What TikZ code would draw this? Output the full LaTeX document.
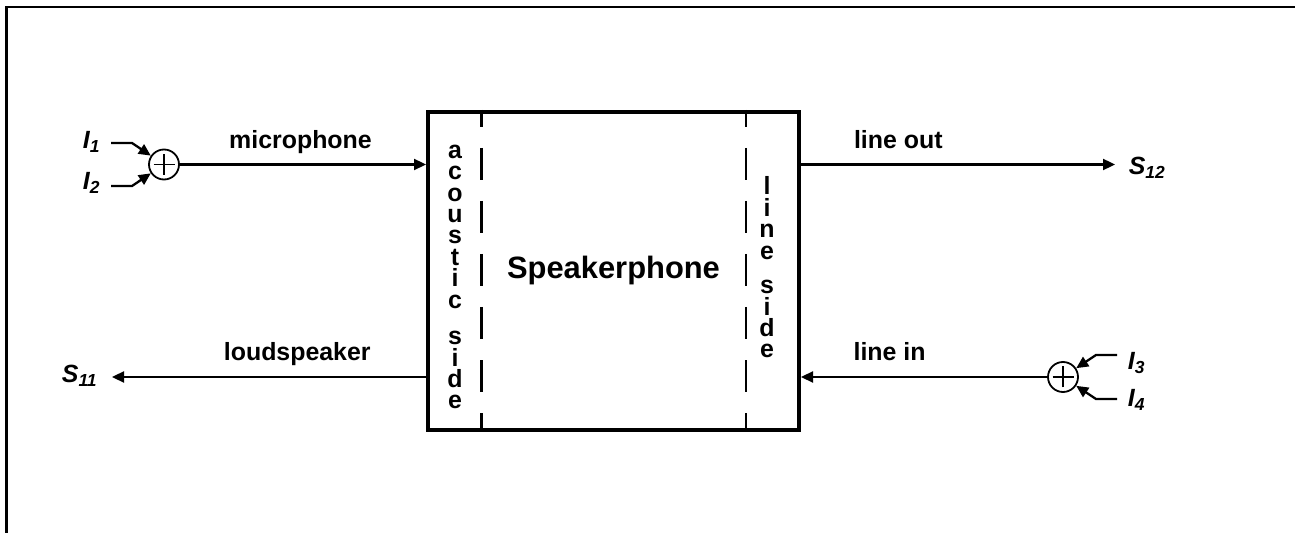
\documentclass[tikz,border=0pt]{standalone}
\usepackage{fontspec}
\setmainfont{Liberation Sans}
\usetikzlibrary{arrows.meta,positioning,calc}

\begin{document}
\begin{tikzpicture}[
        x=1bp, y=-1bp,
        box/.style={rectangle, draw, line width=4bp, minimum width=371bp, minimum height=318bp, font=\fontsize{31}{36}\selectfont\bfseries},
        sum/.style={circle, draw, line width=1.8bp, minimum size=30bp, inner sep=0pt,
            path picture={
                \draw[line width=1.8bp] ([xshift=-10.5bp]path picture bounding box.center) -- ([xshift=10.5bp]path picture bounding box.center)
                    ([yshift=-10.5bp]path picture bounding box.center) -- ([yshift=10.5bp]path picture bounding box.center);
            }},
        sig/.style={inner sep=0pt, font=\fontsize{25}{30}\selectfont\bfseries\itshape},
        lbl/.style={inner sep=0pt, anchor=base, yshift=16bp, font=\fontsize{25}{30}\selectfont\bfseries},
        side/.style={inner sep=0pt, align=center, font=\fontsize{25}{21.5}\selectfont\bfseries},
        arrow/.style={-{Triangle[length=12bp, width=11bp]}, line width=2.3bp},
        sidedash/.style={line width=2.3bp, dash pattern=on 32bp off 21bp, dash phase=15bp},
        frame/.style={line width=2.2bp}
    ]
        \useasboundingbox (0,0) rectangle (1295,533);

        % Frame
        \draw[frame] (6.5,533) -- (6.5,7) -- (1295,7);

        % Speakerphone block
        \node[box] (sp) at (613.5,271) {Speakerphone};
        \draw[sidedash] ([xshift=55.5bp]sp.north west) -- ([xshift=55.5bp]sp.south west);
        \draw[sidedash] ([xshift=-54.75bp]sp.north east) -- ([xshift=-54.75bp]sp.south east);
        \node[side] (acs) at (455,277) {a\\c\\o\\u\\s\\t\\i\\c\\[15bp]s\\i\\d\\e};
        \node[side] (lns) at (767,267.5) {l\\i\\n\\e\\[13bp]s\\i\\d\\e};

        % Summing points
        \node[sum] (sum1) at (164,164.5) {};
        \node[sum] (sum2) at (1063,377) {};

        % Signals
        \node[sig] (i1) at (91.5,142) {I\textsubscript{1}};
        \node[sig] (i2) at (91.5,183) {I\textsubscript{2}};
        \node[sig] (i3) at (1136.5,363) {I\textsubscript{3}};
        \node[sig] (i4) at (1136.5,400) {I\textsubscript{4}};
        \node[sig] (s11) at (79.5,376) {S\textsubscript{11}};
        \node[sig] (s12) at (1147,168) {S\textsubscript{12}};

        \coordinate (a1) at (111,143);
        \coordinate (a2) at (111,186);
        \coordinate (a3) at (1117,355);
        \coordinate (a4) at (1117,399);
        \coordinate (ls) at (112,377);
        \coordinate (out) at (1115,164.5);

        % Connections
        \draw[arrow] (a1) -- ++(21,0) -- (sum1);
        \draw[arrow] (a2) -- ++(21,0) -- (sum1);
        \draw[arrow] (a3) -- ++(-21,0) -- (sum2);
        \draw[arrow] (a4) -- ++(-21,0) -- (sum2);

        \draw[arrow] (sum1) -- node[lbl, pos=0.49] {microphone} (sum1 -| sp.west);
        \draw[arrow] (sp.east |- out) -- node[lbl, pos=0.31] {line out} (out);
        \draw[arrow] (sp.west |- ls) -- node[lbl, pos=0.41] {loudspeaker} (ls);
        \draw[arrow] (sum2) -- node[lbl, pos=0.64] {line in} (sum2 -| sp.east);

    \end{tikzpicture}
\end{document}
